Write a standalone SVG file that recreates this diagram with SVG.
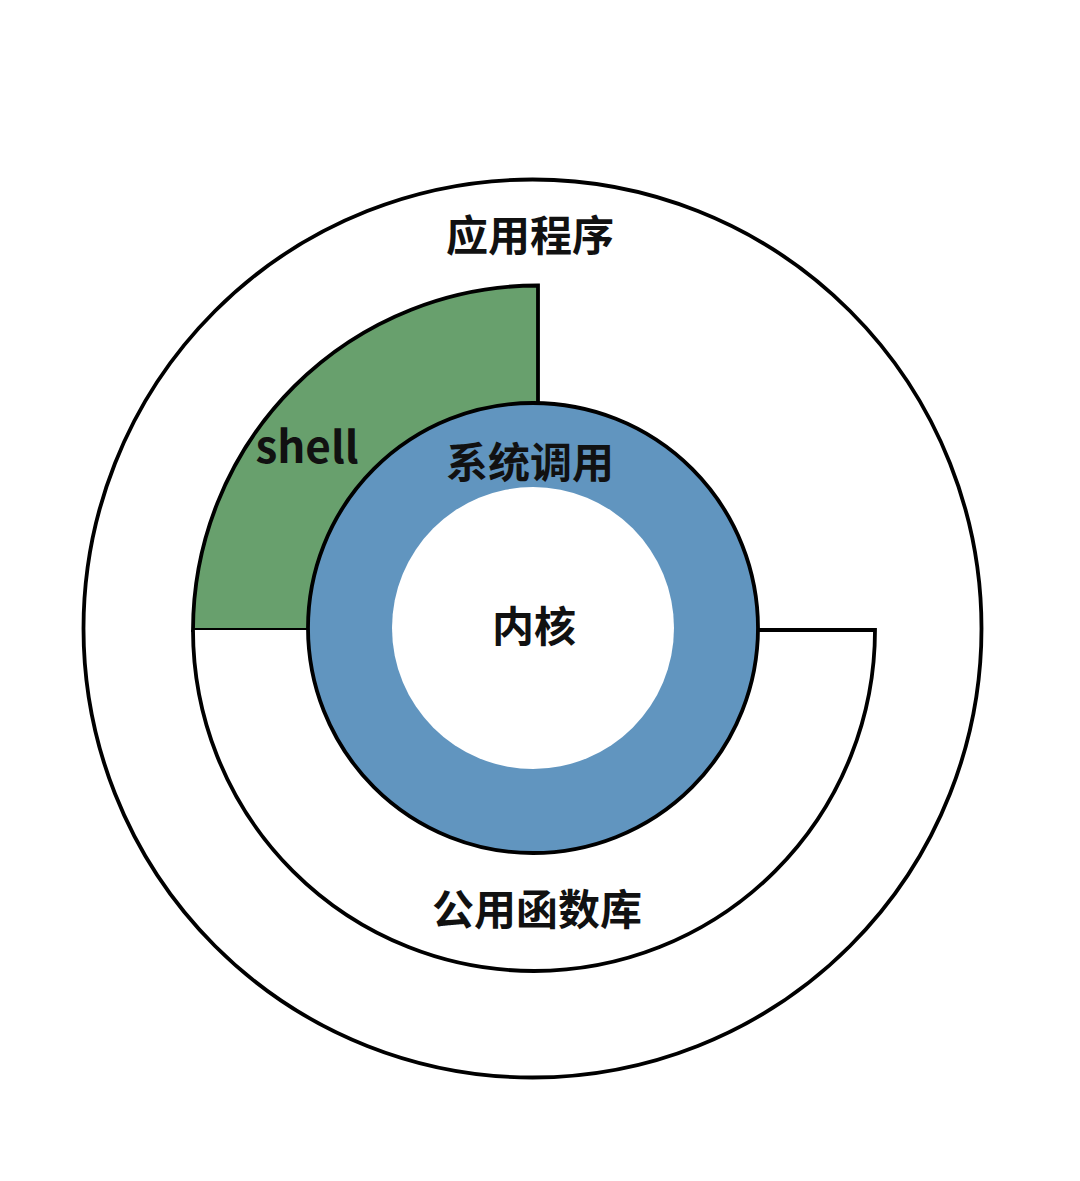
<svg xmlns="http://www.w3.org/2000/svg" width="1080" height="1181" viewBox="0 0 1080 1181">
<style>
.ln{stroke:#000;stroke-width:3.8;stroke-linejoin:miter}
.t{font-family:"Noto Sans CJK SC","Noto Sans",sans-serif;font-weight:bold;fill:#111;text-anchor:middle}
</style>
<rect width="1080" height="1181" fill="#fff"/>
<g id="apps">
<circle class="ln" cx="532.5" cy="628.5" r="449" fill="#fff"/>
<text class="t" x="530" y="251" font-size="42">应用程序</text>
</g>
<g id="shell">
<path class="ln" d="M538 630 L193 630 A345 345 0 0 1 538 285.5 Z" fill="#68a06d"/>
<text class="t" x="307" y="463" font-size="44">shell</text>
</g>
<g id="lib">
<path class="ln" d="M193 630 A341 341 0 0 0 875 630 L538 630" fill="#fff"/>
<text class="t" x="537" y="925" font-size="42">公用函数库</text>
</g>
<g id="syscall">
<circle class="ln" cx="533" cy="628" r="225" fill="#6195bf"/>
<circle cx="533" cy="628" r="141" fill="#fff"/>
<text class="t" x="530" y="478" font-size="42">系统调用</text>
</g>
<g id="kernel">
<text class="t" x="534" y="642" font-size="42">内核</text>
</g>
<g id="connectors"></g>
</svg>
